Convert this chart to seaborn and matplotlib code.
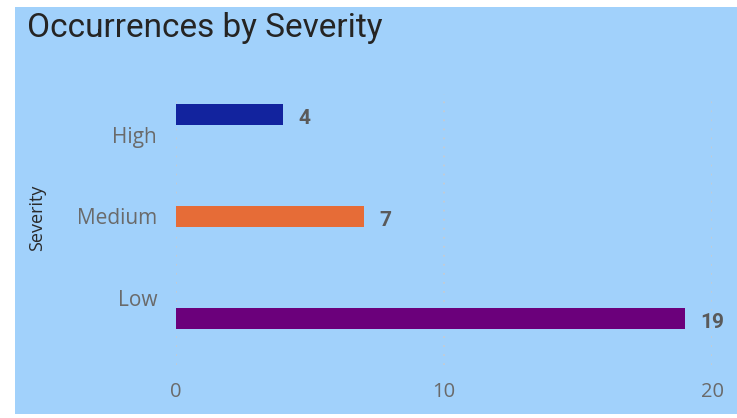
import pandas as pd
import matplotlib.pyplot as plt
from matplotlib.patches import Rectangle
import seaborn as sns

severity = ['High', 'Medium', 'Low']
occurrences = [4, 7, 19]
bar_colors = ['#12239E', '#E66C37', '#6B007B']
x_ticks = [0, 10, 20]

BG = '#A1D1FB'

df = pd.DataFrame({'Severity': severity, 'Count': occurrences})

sns.set_style('white')
plt.rcParams['font.family'] = ['Open Sans', 'DejaVu Sans']

fig = plt.figure(figsize=(7.37, 4.18), dpi=100, facecolor='white')
W, H = 737, 418
# blue panel behind everything (white strip on left/top/bottom like the original)
fig.patches.append(Rectangle((15 / W, 4 / H), 1 - 15 / W, 1 - 11 / H,
                             transform=fig.transFigure, facecolor=BG,
                             edgecolor='none', zorder=-10))

ax = fig.add_axes([176 / W, 1 - 365 / H, (712 - 176) / W, (365 - 94) / H])
ax.set_facecolor('none')

sns.barplot(data=df, y='Severity', x='Count', hue='Severity',
            order=severity, hue_order=severity, palette=bar_colors,
            dodge=True, width=0.75, legend=False, ax=ax, saturation=1,
            linewidth=0)

for cont in ax.containers:
    labs = ax.bar_label(cont, padding=11, fontsize=15, fontweight='bold',
                        color='#5A5A5A', family=['Roboto', 'DejaVu Sans'])
    for t in labs:
        t.set_y(-3)  # sit the number a touch below the bar centre

ax.set_xlim(0, 20)
ax.set_ylim(2.82, -0.5)
ax.set_xticks(x_ticks)
ax.set_xticklabels([str(t) for t in x_ticks])
ax.tick_params(axis='x', length=0, pad=12, labelsize=14.5, labelcolor='#6A6A6A')
ax.tick_params(axis='y', length=0, pad=13.5, labelsize=15, labelcolor='#6A6A6A')
ax.grid(axis='x', color='#C4CCD4', linestyle=(0, (1, 4)), linewidth=1.3)
ax.set_axisbelow(True)
for s in ax.spines.values():
    s.set_visible(False)

ax.set_xlabel('')
ax.set_ylabel('')
fig.text(37 / W, 1 - 218 / H, 'Severity', rotation=90, ha='center', va='center',
         fontsize=13, color='#2A2A2A', family=['Open Sans', 'DejaVu Sans'])

fig.text(27 / W, 1 - 28 / H, 'Occurrences by Severity', ha='left', va='center',
         fontsize=24, color='#252423', family=['Roboto', 'DejaVu Sans'])

fig.savefig('out.png', dpi=100, facecolor='white')
